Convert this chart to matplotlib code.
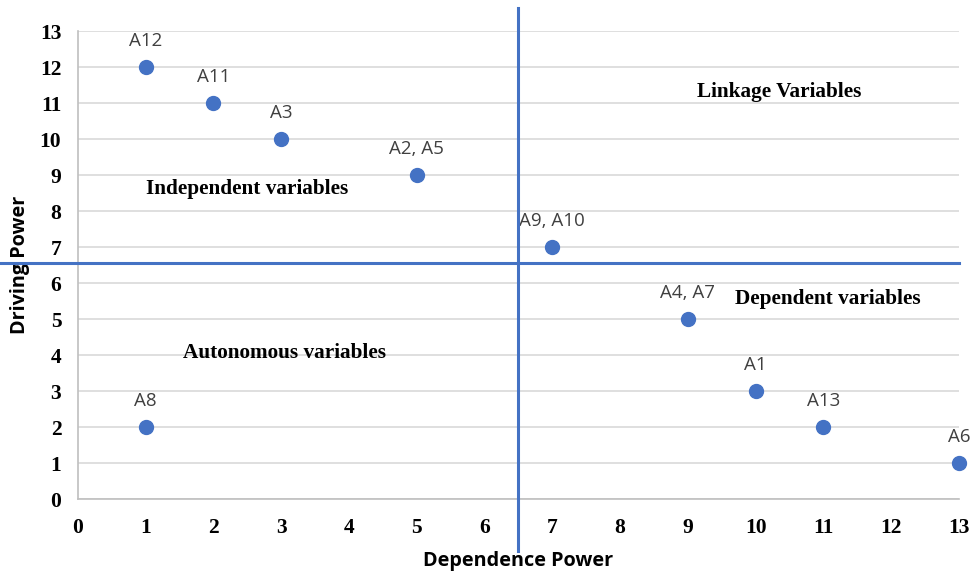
import numpy as np
import matplotlib
matplotlib.use('Agg')
import matplotlib.pyplot as plt

# Data
labels = ['A12', 'A11', 'A3', 'A2, A5', 'A9, A10', 'A4, A7', 'A1', 'A13', 'A6', 'A8']
dependence = [1, 2, 3, 5, 7, 9, 10, 11, 13, 1]
driving = [12, 11, 10, 9, 7, 5, 3, 2, 1, 2]

quadrants = ['Linkage Variables', 'Independent variables', 'Dependent variables', 'Autonomous variables']
quad_x = [10.35, 2.5, 11.06, 3.05]
quad_y = [11.3, 8.6, 5.55, 4.05]

split_x, split_y = 6.5, 6.55

blue = '#4472C4'
grid_c = '#D9D9D9'

fig = plt.figure(figsize=(9.72, 5.72), dpi=100)
ax = fig.add_axes([0.0802, 0.1276, 0.9064, 0.8182])

ax.set_xlim(0, 13)
ax.set_ylim(0, 13)
ax.set_xticks(np.arange(0, 14))
ax.set_yticks(np.arange(0, 14))
ax.yaxis.grid(True, color=grid_c, linewidth=1.2)
ax.set_axisbelow(True)
for s in ['top', 'right']:
    ax.spines[s].set_visible(False)
for s in ['left', 'bottom']:
    ax.spines[s].set_color('#BFBFBF')
    ax.spines[s].set_linewidth(1.2)
ax.tick_params(axis='x', length=0, pad=14)
ax.tick_params(axis='y', length=0, pad=12)
for lab in ax.get_xticklabels() + ax.get_yticklabels():
    lab.set_fontfamily('Liberation Serif')
    lab.set_fontweight('bold')
    lab.set_fontsize(15.5)

ax.scatter(dependence, driving, s=100, color=blue, zorder=5, clip_on=False)
for lab, x, y in zip(labels, dependence, driving):
    ax.annotate(lab, (x, y), xytext=(0, 12), textcoords='offset points',
                ha='center', va='bottom', fontsize=13.5, color='#404040',
                family='Open Sans')

# quadrant dividers, extending past the plot area
ax.plot([split_x, split_x], [-1.45, 13.65], color=blue, lw=2.2, clip_on=False, zorder=4)
ax.plot([-1.15, 13], [split_y, split_y], color=blue, lw=2.2, clip_on=False, zorder=4)

for q, x, y in zip(quadrants, quad_x, quad_y):
    ax.text(x, y, q, ha='center', va='center', fontsize=15.3, fontweight='bold',
            family='Liberation Serif', color='black')

ax.set_xlabel('Dependence Power', fontsize=14.3, fontweight='bold', family='Open Sans', labelpad=9)
ax.set_ylabel('Driving Power', fontsize=14.3, fontweight='bold', family='Open Sans', labelpad=7)

fig.savefig('out.png', dpi=100)
